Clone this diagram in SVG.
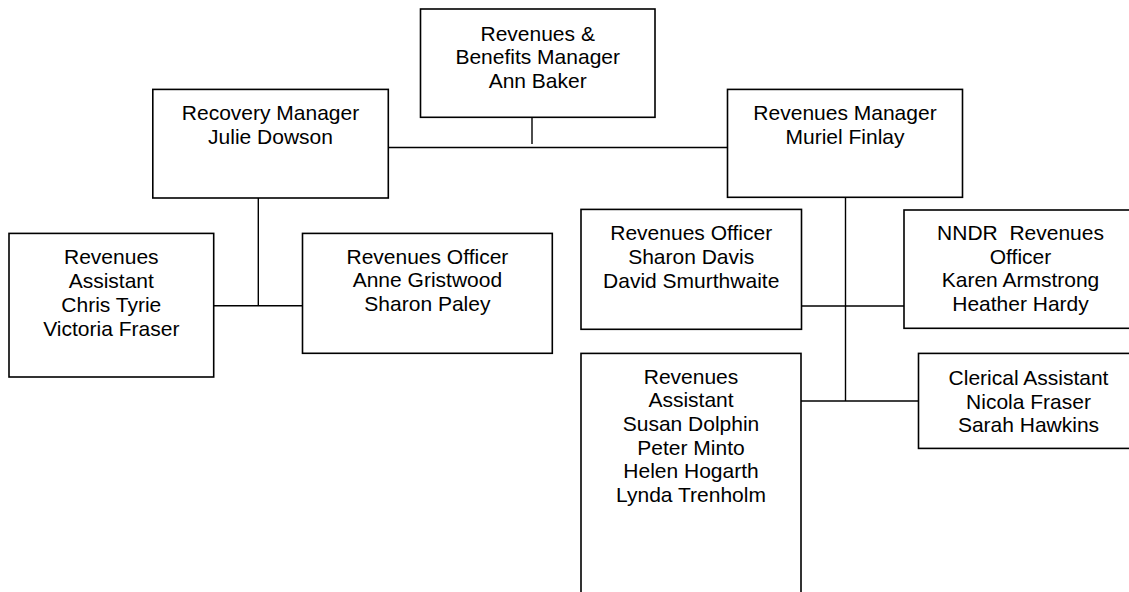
<svg xmlns="http://www.w3.org/2000/svg" width="1129" height="592" viewBox="0 0 1129 592">
  <style>
    .box { fill: #ffffff; stroke: #000000; stroke-width: 1.6; }
    .lbl { font-family: "Liberation Sans", Arial, sans-serif; font-size: 21px; fill: #000000; text-anchor: middle; white-space: pre; }
    .link { fill: none; stroke: #000000; stroke-width: 1.4; }
  </style>
  <rect width="1129" height="592" fill="#ffffff"/>

  <!-- connectors -->
  <g id="connectors">
    <path class="link" d="M532 117 V144"/>
    <path class="link" d="M388.3 147.5 H727.5"/>
    <path class="link" d="M258.3 198 V305.7"/>
    <path class="link" d="M213.7 305.7 H302.5"/>
    <path class="link" d="M845.5 197.3 V401"/>
    <path class="link" d="M801.5 306 H904"/>
    <path class="link" d="M801 401 H918.5"/>
  </g>

  <g id="node-head">
    <rect class="box" x="420.5" y="9" width="234.5" height="108.3"/>
    <text class="lbl" x="537.7" y="40.5">Revenues &amp;</text>
    <text class="lbl" x="537.7" y="64.2">Benefits Manager</text>
    <text class="lbl" x="537.7" y="87.9">Ann Baker</text>
  </g>

  <g id="node-recovery-manager">
    <rect class="box" x="152.8" y="89.4" width="235.5" height="108.6"/>
    <text class="lbl" x="270.5" y="120">Recovery Manager</text>
    <text class="lbl" x="270.5" y="144">Julie Dowson</text>
  </g>

  <g id="node-revenues-manager">
    <rect class="box" x="727.5" y="89.4" width="235" height="107.9"/>
    <text class="lbl" x="845" y="120">Revenues Manager</text>
    <text class="lbl" x="845" y="144">Muriel Finlay</text>
  </g>

  <g id="node-recovery-assistant">
    <rect class="box" x="9" y="233.4" width="204.7" height="143.6"/>
    <text class="lbl" x="111.3" y="264">Revenues</text>
    <text class="lbl" x="111.3" y="288">Assistant</text>
    <text class="lbl" x="111.3" y="312">Chris Tyrie</text>
    <text class="lbl" x="111.3" y="336">Victoria Fraser</text>
  </g>

  <g id="node-recovery-officer">
    <rect class="box" x="302.5" y="233.4" width="249.8" height="119.9"/>
    <text class="lbl" x="427.4" y="263.5">Revenues Officer</text>
    <text class="lbl" x="427.4" y="287.2">Anne Gristwood</text>
    <text class="lbl" x="427.4" y="310.9">Sharon Paley</text>
  </g>

  <g id="node-revenues-officer">
    <rect class="box" x="581" y="209.4" width="220.5" height="119.9"/>
    <text class="lbl" x="691.2" y="240">Revenues Officer</text>
    <text class="lbl" x="691.2" y="264">Sharon Davis</text>
    <text class="lbl" x="691.2" y="288">David Smurthwaite</text>
  </g>

  <g id="node-nndr-officer">
    <rect class="box" x="904" y="210" width="233" height="118.3"/>
    <text class="lbl" x="1020.5" y="240">NNDR  Revenues</text>
    <text class="lbl" x="1020.5" y="263.7">Officer</text>
    <text class="lbl" x="1020.5" y="287.4">Karen Armstrong</text>
    <text class="lbl" x="1020.5" y="311.1">Heather Hardy</text>
  </g>

  <g id="node-revenues-assistant">
    <rect class="box" x="581" y="353.4" width="220" height="270"/>
    <text class="lbl" x="691" y="383.5">Revenues</text>
    <text class="lbl" x="691" y="407.2">Assistant</text>
    <text class="lbl" x="691" y="430.9">Susan Dolphin</text>
    <text class="lbl" x="691" y="454.6">Peter Minto</text>
    <text class="lbl" x="691" y="478.3">Helen Hogarth</text>
    <text class="lbl" x="691" y="502">Lynda Trenholm</text>
  </g>

  <g id="node-clerical-assistant">
    <rect class="box" x="918.5" y="353.4" width="220" height="95"/>
    <text class="lbl" x="1028.5" y="385">Clerical Assistant</text>
    <text class="lbl" x="1028.5" y="408.7">Nicola Fraser</text>
    <text class="lbl" x="1028.5" y="432.4">Sarah Hawkins</text>
  </g>
</svg>
